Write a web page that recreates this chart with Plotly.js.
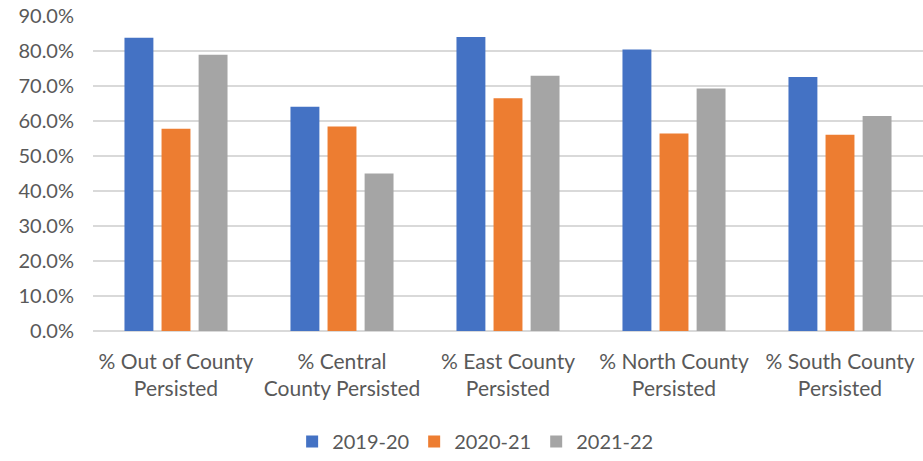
<!DOCTYPE html>
<html>
<head>
<meta charset="utf-8">
<script src="https://cdn.plot.ly/plotly-3.0.1.min.js"></script>
<style>html,body{margin:0;padding:0;background:#fff;}#chart{width:923px;height:461px;}</style>
</head>
<body>
<div id="chart"></div>
<script>
const categories = [
  "% Out of County<br>Persisted",
  "% Central<br>County Persisted",
  "% East County<br>Persisted",
  "% North County<br>Persisted",
  "% South County<br>Persisted"
];
const seriesNames = ["2019-20", "2020-21", "2021-22"];
const values2019 = [83.8, 64.1, 84.0, 80.4, 72.6];
const values2020 = [57.8, 58.4, 66.5, 56.4, 56.1];
const values2021 = [78.9, 45.0, 72.9, 69.3, 61.4];
const colors = ["#4472C4", "#ED7D31", "#A5A5A5"];
const yTicks = [0, 10, 20, 30, 40, 50, 60, 70, 80, 90];

const allValues = [values2019, values2020, values2021];
const traces = allValues.map((vals, i) => ({
  type: "bar",
  name: seriesNames[i],
  x: categories,
  y: vals,
  marker: {color: colors[i]},
  hoverinfo: "y"
}));

const layout = {
  width: 923,
  height: 461,
  margin: {l: 93, r: 0, t: 16, b: 129},
  paper_bgcolor: "#fff",
  plot_bgcolor: "#fff",
  font: {family: "Lato, Carlito, Calibri, sans-serif", size: 20, color: "#595959"},
  barmode: "group",
  bargap: 0.33,
  bargroupgap: 0.22,
  showlegend: true,
  legend: {
    orientation: "h",
    x: 0.461, xanchor: "center",
    y: -0.35, yanchor: "middle",
    font: {size: 20, color: "#595959"},
    itemwidth: 30,
    traceorder: "normal"
  },
  xaxis: {
    showgrid: false,
    showline: false,
    zeroline: false,
    ticks: "",
    ticklabelstandoff: 16,
    tickfont: {size: 21, color: "#595959"}
  },
  yaxis: {
    range: [0, 90],
    tickvals: yTicks,
    ticktext: yTicks.map(v => v.toFixed(1) + "%"),
    showgrid: true,
    gridcolor: "#D9D9D9",
    gridwidth: 1.5,
    zeroline: true,
    zerolinecolor: "#D9D9D9",
    zerolinewidth: 1.5,
    showline: false,
    ticks: "outside",
    ticklen: 14,
    tickcolor: "rgba(0,0,0,0)",
    tickfont: {size: 20, color: "#595959"},
    fixedrange: true
  }
};

Plotly.newPlot("chart", traces, layout, {displayModeBar: false, staticPlot: true});
</script>
</body>
</html>
